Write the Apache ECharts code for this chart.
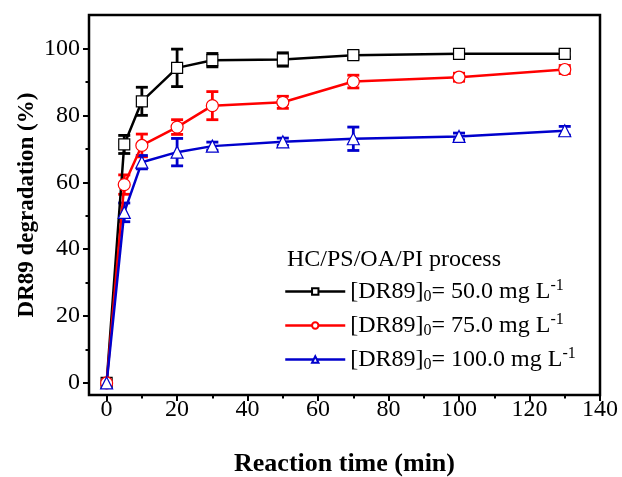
<!DOCTYPE html>
<html>
<head>
<meta charset="utf-8">
<script src="https://cdn.jsdelivr.net/npm/echarts@6/dist/echarts.min.js"></script>
<style>
  html, body { margin: 0; padding: 0; background: #fff; }
  #main { width: 622px; height: 477px; }
</style>
</head>
<body>
<div id="main"></div>
<script>
// reaction time (min)
var times = [0, 5, 10, 20, 30, 50, 70, 100, 130];
// DR89 degradation (%) and error bar half widths
var c50 = [0, 71.3, 84.2, 94.2, 96.5, 96.7, 98.0, 98.4, 98.4];
var c50Err = [0, 2.7, 4.2, 5.6, 2.0, 2.0, 1.0, 1.0, 1.0];
var c75 = [0, 59.3, 71.0, 76.5, 82.9, 83.9, 90.1, 91.4, 93.7];
var c75Err = [0, 2.9, 3.4, 2.2, 4.2, 1.8, 1.9, 1.2, 1.2];
var c100 = [0, 51.0, 66.0, 69.0, 70.8, 72.1, 73.0, 73.7, 75.4];
var c100Err = [0, 2.8, 2.0, 4.1, 1.2, 1.1, 3.5, 1.0, 1.3];

var xMajor = [0, 20, 40, 60, 80, 100, 120, 140];
var xMinor = [10, 30, 50, 70, 90, 110, 130];
var yMajor = [0, 20, 40, 60, 80, 100];
var yMinor = [10, 30, 50, 70, 90];

var legendTitle = "HC/PS/OA/PI process";
var seriesNames = ["c50", "c75", "c100"];
var legendConc = ["50.0", "75.0", "100.0"];

var FONT = "Liberation Serif";

var dom = document.getElementById("main");
var myChart = echarts.init(dom, null, { renderer: "canvas" });

function lineSeries(name, values, color, symbol, size) {
  return {
    name: name,
    type: "line",
    data: times.map(function (t, i) { return [t, values[i]]; }),
    symbol: symbol,
    symbolSize: size,
    color: color,
    lineStyle: { color: color, width: 2.5 },
    itemStyle: { color: "#fff", borderColor: color, borderWidth: 1.2 },
    z: 3
  };
}

function errorSeries(values, errs, color) {
  var data = [];
  times.forEach(function (t, i) {
    if (errs[i] > 0) data.push([t, values[i] - errs[i], values[i] + errs[i]]);
  });
  return {
    type: "custom",
    data: data,
    encode: { x: 0, y: [1, 2] },
    z: 2,
    silent: true,
    renderItem: function (params, api) {
      var x = api.value(0);
      var top = api.coord([x, api.value(2)]);
      var bot = api.coord([x, api.value(1)]);
      var w = 6;
      var style = { stroke: color, lineWidth: 2.8 };
      return {
        type: "group",
        children: [
          { type: "line", shape: { x1: top[0], y1: top[1], x2: bot[0], y2: bot[1] }, style: style },
          { type: "line", shape: { x1: top[0] - w, y1: top[1], x2: top[0] + w, y2: top[1] }, style: style },
          { type: "line", shape: { x1: bot[0] - w, y1: bot[1], x2: bot[0] + w, y2: bot[1] }, style: style }
        ]
      };
    }
  };
}

var option = {
  backgroundColor: "#fff",
  animation: false,
  title: {
    text: legendTitle,
    left: 282,
    top: 243,
    textStyle: { fontFamily: FONT, fontSize: 24, fontWeight: "normal", color: "#000" }
  },
  legend: {
    data: seriesNames,
    orient: "vertical",
    left: 279,
    top: 273,
    itemWidth: 60,
    itemHeight: 8,
    itemGap: 7,
    lineStyle: { width: 2.5 },
    formatter: function (name) {
      var i = seriesNames.indexOf(name);
      return "[DR89]{sub|0}= " + legendConc[i] + " mg L{sup|-1}";
    },
    textStyle: {
      fontFamily: FONT,
      fontSize: 24,
      color: "#000",
      lineHeight: 27,
      rich: {
        sub: { fontFamily: FONT, fontSize: 16, color: "#000", verticalAlign: "bottom", lineHeight: 15 },
        sup: { fontFamily: FONT, fontSize: 16, color: "#000", verticalAlign: "top", lineHeight: 17 }
      }
    }
  },
  grid: {
    left: 89,
    top: 15,
    right: 22,
    bottom: 82,
    outerBoundsMode: "none",
    containLabel: false,
    show: true,
    borderColor: "#000",
    borderWidth: 2.5,
    backgroundColor: "transparent"
  },
  xAxis: [
    {
      type: "value",
      min: -5,
      max: 140,
      name: "Reaction time (min)",
      nameLocation: "middle",
      nameGap: 56,
      nameTextStyle: { fontFamily: FONT, fontSize: 26, fontWeight: "bold", color: "#000" },
      axisLine: { show: false, onZero: false },
      splitLine: { show: false },
      axisTick: { show: true, inside: false, length: 6, customValues: xMajor, lineStyle: { color: "#000", width: 2 } },
      axisLabel: { customValues: xMajor, margin: 3, showMinLabel: true, showMaxLabel: true,
        fontFamily: FONT, fontSize: 24, color: "#000" }
    },
    {
      type: "value",
      min: -5,
      max: 140,
      position: "bottom",
      axisLine: { show: false, onZero: false },
      splitLine: { show: false },
      axisTick: { show: true, length: 3.5, customValues: xMinor, lineStyle: { color: "#000", width: 2 } },
      axisLabel: { show: false }
    }
  ],
  yAxis: [
    {
      type: "value",
      min: -3.6,
      max: 110,
      name: "DR89 degradation (%)",
      nameLocation: "middle",
      nameGap: 50,
      nameMoveOverlap: false,
      nameTextStyle: { fontFamily: FONT, fontSize: 23, fontWeight: "bold", color: "#000" },
      axisLine: { show: false, onZero: false },
      splitLine: { show: false },
      axisTick: { show: true, length: 6, customValues: yMajor, lineStyle: { color: "#000", width: 2 } },
      axisLabel: { customValues: yMajor, margin: 9, fontFamily: FONT, fontSize: 24, color: "#000" }
    },
    {
      type: "value",
      min: -3.6,
      max: 110,
      position: "left",
      axisLine: { show: false, onZero: false },
      splitLine: { show: false },
      axisTick: { show: true, length: 3.5, customValues: yMinor, lineStyle: { color: "#000", width: 2 } },
      axisLabel: { show: false }
    }
  ],
  series: [
    errorSeries(c50, c50Err, "#000000"),
    errorSeries(c75, c75Err, "#ff0000"),
    errorSeries(c100, c100Err, "#0000cc"),
    lineSeries("c50", c50, "#000000", "rect", 11),
    lineSeries("c75", c75, "#ff0000", "circle", 12),
    lineSeries("c100", c100, "#0000cc", "triangle", 12)
  ]
};

myChart.setOption(option);
window.addEventListener("resize", myChart.resize);
</script>
</body>
</html>
